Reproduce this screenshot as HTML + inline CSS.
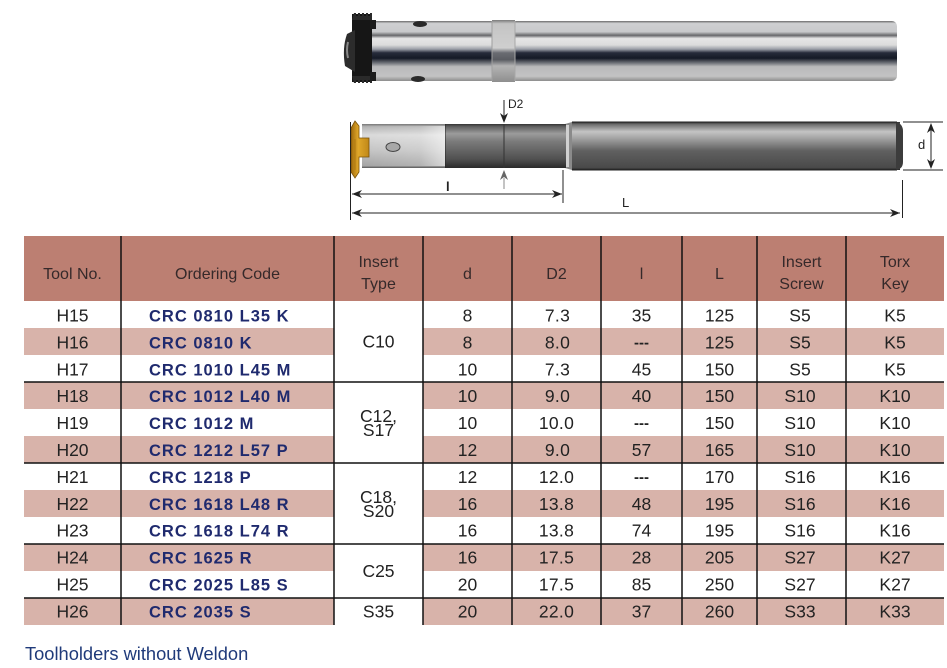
<!DOCTYPE html>
<html><head><meta charset="utf-8"><style>
html,body{margin:0;padding:0;background:#fff;}
svg{display:block;}
</style></head><body>
<svg width="947" height="668" viewBox="0 0 947 668" xmlns="http://www.w3.org/2000/svg" font-family="'Liberation Sans', Arial, sans-serif">
<defs>
<linearGradient id="steel" x1="0" y1="0" x2="0" y2="1">
<stop offset="0" stop-color="#6a6a6a"/>
<stop offset="0.04" stop-color="#cfd0d2"/>
<stop offset="0.18" stop-color="#c8c9cb"/>
<stop offset="0.24" stop-color="#66676a"/>
<stop offset="0.29" stop-color="#e6e6e6"/>
<stop offset="0.40" stop-color="#dcdcdc"/>
<stop offset="0.47" stop-color="#9a9ea6"/>
<stop offset="0.53" stop-color="#262b3a"/>
<stop offset="0.62" stop-color="#151a26"/>
<stop offset="0.70" stop-color="#70737a"/>
<stop offset="0.76" stop-color="#b9b9bb"/>
<stop offset="0.92" stop-color="#c3c3c3"/>
<stop offset="1" stop-color="#8c8c8c"/>
</linearGradient>
<linearGradient id="ring" x1="0" y1="0" x2="0" y2="1">
<stop offset="0" stop-color="#7a7a7a"/>
<stop offset="0.06" stop-color="#c4c4c4"/>
<stop offset="0.45" stop-color="#cfcfcf"/>
<stop offset="0.53" stop-color="#6a6c72"/>
<stop offset="0.64" stop-color="#5a5c62"/>
<stop offset="0.74" stop-color="#b4b4b4"/>
<stop offset="1" stop-color="#8e8e8e"/>
</linearGradient>
<linearGradient id="shank" x1="0" y1="0" x2="0" y2="1">
<stop offset="0" stop-color="#2e2e2e"/>
<stop offset="0.05" stop-color="#6e6e6e"/>
<stop offset="0.2" stop-color="#c4c4c4"/>
<stop offset="0.32" stop-color="#a8a8a8"/>
<stop offset="0.6" stop-color="#606060"/>
<stop offset="0.95" stop-color="#4a4a4a"/>
<stop offset="1" stop-color="#222"/>
</linearGradient>
<linearGradient id="neck" x1="0" y1="0" x2="0" y2="1">
<stop offset="0" stop-color="#333"/>
<stop offset="0.06" stop-color="#606060"/>
<stop offset="0.22" stop-color="#9c9c9c"/>
<stop offset="0.4" stop-color="#7a7a7a"/>
<stop offset="0.8" stop-color="#505050"/>
<stop offset="1" stop-color="#2a2a2a"/>
</linearGradient>
<linearGradient id="light" x1="0" y1="0" x2="0" y2="1">
<stop offset="0" stop-color="#777"/>
<stop offset="0.06" stop-color="#b4b4b4"/>
<stop offset="0.25" stop-color="#dadada"/>
<stop offset="0.6" stop-color="#c4c4c4"/>
<stop offset="0.95" stop-color="#a4a4a4"/>
<stop offset="1" stop-color="#555"/>
</linearGradient>
<linearGradient id="lighth" x1="0" y1="0" x2="1" y2="0">
<stop offset="0" stop-color="#fff" stop-opacity="0"/>
<stop offset="0.7" stop-color="#fff" stop-opacity="0.15"/>
<stop offset="1" stop-color="#fff" stop-opacity="0.55"/>
</linearGradient>
<linearGradient id="gold" x1="0" y1="0" x2="1" y2="0">
<stop offset="0" stop-color="#a06a0c"/>
<stop offset="0.4" stop-color="#e0a82a"/>
<stop offset="1" stop-color="#c08818"/>
</linearGradient>
</defs>

<!-- ===== Top photo tool ===== -->
<rect x="370" y="21" width="527" height="60" rx="5" fill="url(#steel)"/>
<rect x="492" y="20" width="23" height="62" fill="url(#ring)"/>
<line x1="492" y1="21" x2="492" y2="81" stroke="#a0a0a0" stroke-width="1"/>
<line x1="515" y1="21" x2="515" y2="81" stroke="#a8a8a8" stroke-width="1"/>
<ellipse cx="420" cy="24" rx="7" ry="3" fill="#2a2a2a"/>
<ellipse cx="418" cy="79" rx="7" ry="3" fill="#2a2a2a"/>
<!-- nut -->
<rect x="352" y="14" width="20" height="68" fill="#161616"/>
<path d="M354 13 h2 v3 h2 v-3 h2 v3 h2 v-3 h2 v3 h2 v-3 h2 v3 h2 v-3 h2 v7 h-20z" fill="#2a2a2a"/>
<path d="M354 83 h2 v-3 h2 v3 h2 v-3 h2 v3 h2 v-3 h2 v3 h2 v-3 h2 v3 h2 v-7 h-20z" fill="#2a2a2a"/>
<rect x="370" y="20" width="6" height="9" fill="#1c1c1c"/>
<rect x="370" y="72" width="6" height="9" fill="#1c1c1c"/>
<path d="M355 30 L347 34 Q342 48 345 66 L355 72 Z" fill="#2c2c2c"/>
<path d="M348 42 Q346 50 348 58" stroke="#888" stroke-width="2" fill="none"/>

<!-- ===== Technical drawing ===== -->
<rect x="572" y="122" width="328" height="48" fill="url(#shank)"/>
<path d="M896 122 Q903 124 903 131 L903 162 Q903 169 896 170 Z" fill="#3c3c3c"/>
<line x1="572" y1="122" x2="897" y2="122" stroke="#222" stroke-width="1"/>
<line x1="572" y1="170" x2="897" y2="170" stroke="#222" stroke-width="1"/>
<path d="M565 124 L572 122 L572 170 L565 168 Z" fill="#8a8a8a"/>
<rect x="566" y="125" width="3" height="42" fill="#d0d0d0"/>
<rect x="445" y="124" width="121" height="44" fill="url(#neck)"/>
<line x1="445" y1="124" x2="445" y2="168" stroke="#222" stroke-width="1"/>
<rect x="362" y="124" width="83" height="44" fill="url(#light)"/>
<rect x="362" y="126" width="83" height="40" fill="url(#lighth)"/>
<ellipse cx="393" cy="147" rx="7" ry="4.5" fill="#a8a8a8" stroke="#444" stroke-width="1"/>
<path d="M351 128 L355 121 L359 126 L359 138 L369 138 L369 157 L359 157 L359 172 L355 178 L351 172 Z" fill="url(#gold)" stroke="#7a5208" stroke-width="0.8"/>
<line x1="355" y1="139" x2="355" y2="170" stroke="#b07a10" stroke-width="1"/>
<line x1="350.5" y1="122" x2="350.5" y2="220" stroke="#222" stroke-width="1"/>
<line x1="504" y1="124" x2="504" y2="168" stroke="#333" stroke-width="1"/>
<line x1="504" y1="100" x2="504" y2="116" stroke="#222" stroke-width="1"/>
<path d="M504 123 L500 113 L504 116 L508 113 Z" fill="#222"/>
<line x1="504" y1="178" x2="504" y2="189" stroke="#888" stroke-width="1"/>
<path d="M504 170 L500 180 L504 177 L508 180 Z" fill="#666"/>
<text x="508" y="108" font-size="12" fill="#222">D2</text>
<line x1="903" y1="122" x2="943" y2="122" stroke="#222" stroke-width="1"/>
<line x1="903" y1="170" x2="943" y2="170" stroke="#222" stroke-width="1"/>
<line x1="931" y1="126" x2="931" y2="166" stroke="#222" stroke-width="1"/>
<path d="M931 123 L927 133 L931 130 L935 133 Z" fill="#222"/>
<path d="M931 169 L927 159 L931 162 L935 159 Z" fill="#222"/>
<text x="918" y="149" font-size="13" fill="#222">d</text>
<line x1="563" y1="170" x2="563" y2="203" stroke="#222" stroke-width="1"/>
<line x1="352" y1="194" x2="562" y2="194" stroke="#222" stroke-width="1"/>
<path d="M352 194 L362 190 L359 194 L362 198 Z" fill="#222"/>
<path d="M562 194 L552 190 L555 194 L552 198 Z" fill="#222"/>
<text x="446" y="191" font-size="13" font-weight="bold" fill="#222">l</text>
<line x1="902.5" y1="180" x2="902.5" y2="218" stroke="#222" stroke-width="1"/>
<line x1="352" y1="213" x2="900" y2="213" stroke="#222" stroke-width="1"/>
<path d="M352 213 L362 209 L359 213 L362 217 Z" fill="#222"/>
<path d="M900 213 L890 209 L893 213 L890 217 Z" fill="#222"/>
<text x="622" y="207" font-size="13" fill="#222">L</text>

<!-- ===== Table ===== -->
<rect x="24" y="236" width="920" height="65" fill="#bc7f72"/>
<g fill="#d8b3aa">
<rect x="24" y="328" width="310" height="27"/><rect x="423" y="328" width="521" height="27"/>
<rect x="24" y="382" width="310" height="27"/><rect x="423" y="382" width="521" height="27"/>
<rect x="24" y="436" width="310" height="27"/><rect x="423" y="436" width="521" height="27"/>
<rect x="24" y="490" width="310" height="27"/><rect x="423" y="490" width="521" height="27"/>
<rect x="24" y="544" width="310" height="27"/><rect x="423" y="544" width="521" height="27"/>
<rect x="24" y="598" width="310" height="27"/><rect x="423" y="598" width="521" height="27"/>
</g>
<g stroke="#111" stroke-width="1.5">
<line x1="121" y1="236" x2="121" y2="625"/>
<line x1="334" y1="236" x2="334" y2="625"/>
<line x1="423" y1="236" x2="423" y2="625"/>
<line x1="512" y1="236" x2="512" y2="625"/>
<line x1="601" y1="236" x2="601" y2="625"/>
<line x1="682" y1="236" x2="682" y2="625"/>
<line x1="757" y1="236" x2="757" y2="625"/>
<line x1="846" y1="236" x2="846" y2="625"/>
<line x1="24" y1="382" x2="944" y2="382"/>
<line x1="24" y1="463" x2="944" y2="463"/>
<line x1="24" y1="544" x2="944" y2="544"/>
<line x1="24" y1="598" x2="944" y2="598"/>
</g>
<g font-size="16" fill="#35292a" text-anchor="middle">
<text x="72.5" y="279">Tool No.</text>
<text x="227.5" y="279">Ordering Code</text>
<text x="378.5" y="267">Insert</text><text x="378.5" y="289">Type</text>
<text x="467.5" y="279">d</text>
<text x="556.5" y="279">D2</text>
<text x="641.5" y="279">l</text>
<text x="719.5" y="279">L</text>
<text x="801.5" y="267">Insert</text><text x="801.5" y="289">Screw</text>
<text x="895" y="267">Torx</text><text x="895" y="289">Key</text>
</g>
<g font-size="17.5" fill="#222" text-anchor="middle">
<text x="72.5" y="321.5">H15</text>
<text x="72.5" y="348.4">H16</text>
<text x="72.5" y="375.3">H17</text>
<text x="72.5" y="402.2">H18</text>
<text x="72.5" y="429.1">H19</text>
<text x="72.5" y="456">H20</text>
<text x="72.5" y="482.9">H21</text>
<text x="72.5" y="509.8">H22</text>
<text x="72.5" y="536.7">H23</text>
<text x="72.5" y="563.6">H24</text>
<text x="72.5" y="590.5">H25</text>
<text x="72.5" y="617.4">H26</text>

<text x="378.5" y="347.5">C10</text>
<text x="378.5" y="422">C12,</text><text x="378.5" y="436">S17</text>
<text x="378.5" y="503">C18,</text><text x="378.5" y="517">S20</text>
<text x="378.5" y="577">C25</text>
<text x="378.5" y="617.4">S35</text>

<text x="467.5" y="321.5">8</text>
<text x="467.5" y="348.4">8</text>
<text x="467.5" y="375.3">10</text>
<text x="467.5" y="402.2">10</text>
<text x="467.5" y="429.1">10</text>
<text x="467.5" y="456">12</text>
<text x="467.5" y="482.9">12</text>
<text x="467.5" y="509.8">16</text>
<text x="467.5" y="536.7">16</text>
<text x="467.5" y="563.6">16</text>
<text x="467.5" y="590.5">20</text>
<text x="467.5" y="617.4">20</text>

<g letter-spacing="0.3">
<text x="557.5" y="321.5">7.3</text>
<text x="557.5" y="348.4">8.0</text>
<text x="557.5" y="375.3">7.3</text>
<text x="557.5" y="402.2">9.0</text>
<text x="556.5" y="429.1">10.0</text>
<text x="557.5" y="456">9.0</text>
<text x="556.5" y="482.9">12.0</text>
<text x="556.5" y="509.8">13.8</text>
<text x="556.5" y="536.7">13.8</text>
<text x="556.5" y="563.6">17.5</text>
<text x="556.5" y="590.5">17.5</text>
<text x="556.5" y="617.4">22.0</text>
</g>

<text x="641.5" y="321.5">35</text>
<text x="641.5" y="347.4" font-weight="bold" font-size="15">---</text>
<text x="641.5" y="375.3">45</text>
<text x="641.5" y="402.2">40</text>
<text x="641.5" y="428.1" font-weight="bold" font-size="15">---</text>
<text x="641.5" y="456">57</text>
<text x="641.5" y="481.9" font-weight="bold" font-size="15">---</text>
<text x="641.5" y="509.8">48</text>
<text x="641.5" y="536.7">74</text>
<text x="641.5" y="563.6">28</text>
<text x="641.5" y="590.5">85</text>
<text x="641.5" y="617.4">37</text>

<text x="719.5" y="321.5">125</text>
<text x="719.5" y="348.4">125</text>
<text x="719.5" y="375.3">150</text>
<text x="719.5" y="402.2">150</text>
<text x="719.5" y="429.1">150</text>
<text x="719.5" y="456">165</text>
<text x="719.5" y="482.9">170</text>
<text x="719.5" y="509.8">195</text>
<text x="719.5" y="536.7">195</text>
<text x="719.5" y="563.6">205</text>
<text x="719.5" y="590.5">250</text>
<text x="719.5" y="617.4">260</text>

<text x="800" y="321.5">S5</text>
<text x="800" y="348.4">S5</text>
<text x="800" y="375.3">S5</text>
<text x="800" y="402.2">S10</text>
<text x="800" y="429.1">S10</text>
<text x="800" y="456">S10</text>
<text x="800" y="482.9">S16</text>
<text x="800" y="509.8">S16</text>
<text x="800" y="536.7">S16</text>
<text x="800" y="563.6">S27</text>
<text x="800" y="590.5">S27</text>
<text x="800" y="617.4">S33</text>

<text x="895" y="321.5">K5</text>
<text x="895" y="348.4">K5</text>
<text x="895" y="375.3">K5</text>
<text x="895" y="402.2">K10</text>
<text x="895" y="429.1">K10</text>
<text x="895" y="456">K10</text>
<text x="895" y="482.9">K16</text>
<text x="895" y="509.8">K16</text>
<text x="895" y="536.7">K16</text>
<text x="895" y="563.6">K27</text>
<text x="895" y="590.5">K27</text>
<text x="895" y="617.4">K33</text>
</g>
<g font-size="16.5" font-weight="bold" fill="#1f2a6e" letter-spacing="1">
<text x="149" y="321.5">CRC 0810 L35 K</text>
<text x="149" y="348.4">CRC 0810 K</text>
<text x="149" y="375.3">CRC 1010 L45 M</text>
<text x="149" y="402.2">CRC 1012 L40 M</text>
<text x="149" y="429.1">CRC 1012 M</text>
<text x="149" y="456">CRC 1212 L57 P</text>
<text x="149" y="482.9">CRC 1218 P</text>
<text x="149" y="509.8">CRC 1618 L48 R</text>
<text x="149" y="536.7">CRC 1618 L74 R</text>
<text x="149" y="563.6">CRC 1625 R</text>
<text x="149" y="590.5">CRC 2025 L85 S</text>
<text x="149" y="617.4">CRC 2035 S</text>
</g>

<text x="25" y="660" font-size="18.3" fill="#1f3a7a">Toolholders without Weldon</text>
</svg>
</body></html>
